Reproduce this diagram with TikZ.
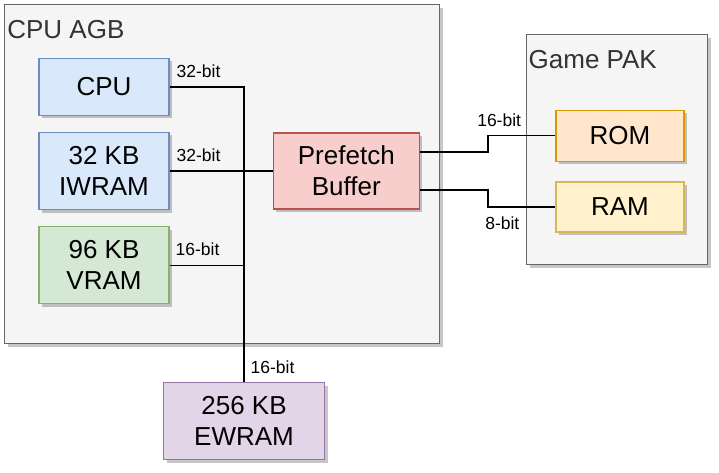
\documentclass[tikz,border=0pt]{standalone}
\usepackage{fontspec}
\setmainfont{Liberation Sans}
\usetikzlibrary{shadows,scopes}
\definecolor{boxfill}{HTML}{F5F5F5}
\definecolor{boxline}{HTML}{666666}
\definecolor{boxtext}{HTML}{333333}
\definecolor{cpufill}{HTML}{DAE8FC}
\definecolor{cpuline}{HTML}{6C8EBF}
\definecolor{vramfill}{HTML}{D5E8D4}
\definecolor{vramline}{HTML}{82B366}
\definecolor{preffill}{HTML}{F8CECC}
\definecolor{prefline}{HTML}{B85450}
\definecolor{romfill}{HTML}{FFE6CC}
\definecolor{romline}{HTML}{D79B00}
\definecolor{ramfill}{HTML}{FFF2CC}
\definecolor{ramline}{HTML}{D6B656}
\definecolor{ewramfill}{HTML}{E1D5E7}
\definecolor{ewramline}{HTML}{9673A6}
\begin{document}
\begin{tikzpicture}[x=1pt,y=-1pt,line width=1.3pt,
  shade3/.style={drop shadow={shadow xshift=3pt,shadow yshift=-3pt,fill=black,opacity=0.22}},
  chip/.style={shade3,draw,fill=boxfill,draw=boxline,anchor=north west,inner sep=0pt},
  chiptitle/.style={anchor=base west,inner sep=0pt,text=boxtext,font=\fontsize{26}{31}\selectfont},
  block/.style={shade3,draw,align=center,inner sep=0pt,minimum width=130pt,minimum height=77pt,font=\fontsize{26}{31}\selectfont},
  bus/.style={line width=1.1pt},
  buslabel/.style={inner sep=0pt,font=\fontsize{17.5}{21}\selectfont}]
  \useasboundingbox (0,0) rectangle (719,473);
  \node [chip,minimum width=435pt,minimum height=339pt] (agb) at (4,4) {};
  \node [chip,minimum width=181pt,minimum height=230pt] (pak) at (526,34) {};
  \node [chiptitle] (agbtitle) at (6.7,38.6) {CPU AGB};
  \node [chiptitle] (paktitle) at (528,68.3) {Game PAK};
  \path;
  { [every node/.style={block,fill=cpufill,draw=cpuline}]
    \node [minimum height=57pt] (cpu) at (104,87) {CPU};
    \node (iwram) at (104,171) {32 KB\\IWRAM};
  }
  \node [block,fill=vramfill,draw=vramline] (vram) at (104,265.3) {96 KB\\VRAM};
  \node [block,fill=preffill,draw=prefline,minimum width=146pt,minimum height=76pt] (prefetch) at (346.3,171) {Prefetch\\Buffer};
  { [every node/.style={block,minimum width=128pt}]
    \node [fill=romfill,draw=romline,minimum height=51pt] (rom) at (620,135.7) {ROM};
    \node [fill=ramfill,draw=ramline,minimum height=50pt] (ram) at (620,207) {RAM};
  }
  \node [block,fill=ewramfill,draw=ewramline,minimum width=161pt] (ewram) at (244,421) {256 KB\\EWRAM};
  \draw [bus] (cpu.east) -| (ewram.north);
  \draw [bus] (iwram.east) -- (prefetch.west);
  \draw [bus] (vram.east) -- (vram.east -| ewram.north);
  \draw [bus] ([yshift=19pt]prefetch.east) -- ++(68,0) |- (rom.west);
  \draw [bus] ([yshift=-19pt]prefetch.east) -- ++(68,0) |- (ram.west);
  \path;
  { [every node/.style={buslabel,anchor=base west}]
    \node (cpubits) at (176,78) {32-bit};
    \node (iwrambits) at (176,161.3) {32-bit};
    \node (vrambits) at (175,255.6) {16-bit};
    \node (ewrambits) at (250,373) {16-bit};
  }
  { [every node/.style={buslabel,anchor=base east}]
    \node (rombits) at (521.7,126.3) {16-bit};
    \node (rambits) at (520,229.3) {8-bit};
  }
\end{tikzpicture}
\end{document}
